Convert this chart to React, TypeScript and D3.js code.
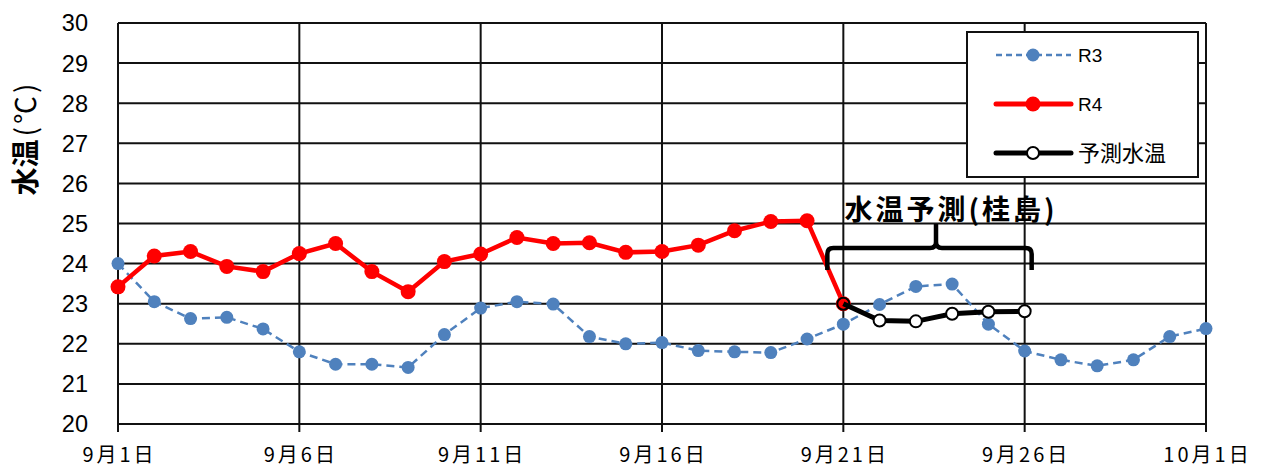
import React, { useEffect, useRef } from "react";
import * as d3 from "d3";

// day offsets from 9/1
const xTickDays = [0, 5, 10, 15, 20, 25, 30];
const xTickLabels = ["9月1日", "9月6日", "9月11日", "9月16日", "9月21日", "9月26日", "10月1日"];
const yTicks = [20, 21, 22, 23, 24, 25, 26, 27, 28, 29, 30];

// R3: 9/1 .. 10/1
const r3Values = [
  24.0, 23.05, 22.63, 22.66, 22.37, 21.8, 21.49, 21.49, 21.41, 22.23,
  22.89, 23.05, 22.99, 22.18, 22.0, 22.03, 21.83, 21.8, 21.78, 22.12,
  22.49, 22.98, 23.43, 23.49, 22.49, 21.82, 21.6, 21.45, 21.6, 22.18, 22.38,
];
// R4: 9/1 .. 9/21
const r4Values = [
  23.42, 24.19, 24.3, 23.93, 23.8, 24.25, 24.5, 23.8, 23.3, 24.05,
  24.24, 24.65, 24.5, 24.52, 24.28, 24.3, 24.46, 24.82, 25.05, 25.07, 23.0,
];
// 予測水温: 9/21 .. 9/26
const predStart = 20;
const predValues = [23.0, 22.58, 22.56, 22.75, 22.8, 22.81];

const W = 1263;
const H = 468;
const margin = { left: 118, right: 57, top: 23, bottom: 44 };

export default function App() {
  const svgRef = useRef<SVGSVGElement>(null);

  useEffect(() => {
    const svg = d3.select(svgRef.current);
    svg.selectAll("*").remove();

    const x = d3.scaleLinear().domain([0, 30]).range([margin.left, W - margin.right]);
    const y = d3.scaleLinear().domain([20, 30]).range([H - margin.bottom, margin.top]);

    const g = svg.append("g");

    // horizontal grid
    g.append("g")
      .selectAll("line")
      .data(yTicks)
      .join("line")
      .attr("x1", x(0))
      .attr("x2", x(30))
      .attr("y1", (d) => y(d))
      .attr("y2", (d) => y(d))
      .attr("stroke", "#111")
      .attr("stroke-width", 2);

    // vertical grid + ticks below axis
    g.append("g")
      .selectAll("line")
      .data(xTickDays)
      .join("line")
      .attr("x1", (d) => x(d))
      .attr("x2", (d) => x(d))
      .attr("y1", y(30))
      .attr("y2", y(20) + 8)
      .attr("stroke", "#111")
      .attr("stroke-width", 2);

    // y tick labels
    g.append("g")
      .selectAll("text")
      .data(yTicks)
      .join("text")
      .attr("x", x(0) - 30)
      .attr("y", (d) => y(d))
      .attr("dy", "0.36em")
      .attr("text-anchor", "end")
      .attr("font-family", "Liberation Sans, sans-serif")
      .attr("font-size", 23.5)
      .attr("fill", "#000")
      .text((d) => d);

    // x tick labels
    g.append("g")
      .selectAll("text")
      .data(xTickDays)
      .join("text")
      .attr("x", (d) => x(d) + 1.5)
      .attr("y", H - 6)
      .attr("text-anchor", "middle")
      .attr("font-family", "Noto Sans CJK JP, sans-serif")
      .attr("font-size", 20)
      .attr("letter-spacing", 3)
      .attr("fill", "#000")
      .text((d, i) => xTickLabels[i]);

    // y axis title
    const yt = g.append("text")
      .attr("transform", `translate(36, 138) rotate(-90)`)
      .attr("text-anchor", "middle")
      .attr("font-family", "Noto Sans CJK JP, sans-serif")
      .attr("font-size", 28)
      .attr("fill", "#000");
    yt.append("tspan").attr("font-weight", "bold").text("水温");
    yt.append("tspan").attr("dx", 3).attr("letter-spacing", 3).text("(℃)");

    const line = d3.line<[number, number]>()
      .x((d) => x(d[0]))
      .y((d) => y(d[1]));

    // R3
    const r3 = r3Values.map((v, i) => [i, v] as [number, number]);
    g.append("path")
      .attr("d", line(r3))
      .attr("fill", "none")
      .attr("stroke", "#4f81bd")
      .attr("stroke-width", 2.5)
      .attr("stroke-dasharray", "8,5");
    g.append("g")
      .selectAll("circle")
      .data(r3)
      .join("circle")
      .attr("cx", (d) => x(d[0]))
      .attr("cy", (d) => y(d[1]))
      .attr("r", 6.5)
      .attr("fill", "#4f81bd");

    // R4
    const r4 = r4Values.map((v, i) => [i, v] as [number, number]);
    g.append("path")
      .attr("d", line(r4))
      .attr("fill", "none")
      .attr("stroke", "#ff0000")
      .attr("stroke-width", 4.5);
    g.append("g")
      .selectAll("circle")
      .data(r4)
      .join("circle")
      .attr("cx", (d) => x(d[0]))
      .attr("cy", (d) => y(d[1]))
      .attr("r", 7.5)
      .attr("fill", "#ff0000");

    // prediction
    const pred = predValues.map((v, i) => [predStart + i, v] as [number, number]);
    g.append("path")
      .attr("d", line(pred))
      .attr("fill", "none")
      .attr("stroke", "#000")
      .attr("stroke-width", 5);
    g.append("g")
      .selectAll("circle")
      .data(pred)
      .join("circle")
      .attr("cx", (d) => x(d[0]))
      .attr("cy", (d) => y(d[1]))
      .attr("r", 6)
      .attr("fill", (d, i) => (i === 0 ? "none" : "#fff"))
      .attr("stroke", "#000")
      .attr("stroke-width", 2);

    // bracket annotation over prediction range
    const bx0 = x(predStart) - 16;
    const bx1 = x(predStart + predValues.length - 1) + 7;
    const bm = (x(predStart) + x(predStart + predValues.length - 1)) / 2 + 2;
    const by = 248;
    const r = 6;
    const bracket = d3.path();
    bracket.moveTo(bx0, by + 22);
    bracket.lineTo(bx0, by + r);
    bracket.quadraticCurveTo(bx0, by, bx0 + r, by);
    bracket.lineTo(bm - r, by);
    bracket.quadraticCurveTo(bm, by, bm, by - r);
    bracket.lineTo(bm, by - 24);
    bracket.moveTo(bm, by - r);
    bracket.quadraticCurveTo(bm, by, bm + r, by);
    bracket.lineTo(bx1 - r, by);
    bracket.quadraticCurveTo(bx1, by, bx1, by + r);
    bracket.lineTo(bx1, by + 22);
    g.append("path")
      .attr("d", bracket.toString())
      .attr("fill", "none")
      .attr("stroke", "#000")
      .attr("stroke-width", 4.5);

    g.append("text")
      .attr("x", 951)
      .attr("y", 220)
      .attr("text-anchor", "middle")
      .attr("font-family", "Noto Sans CJK JP, sans-serif")
      .attr("font-weight", "bold")
      .attr("font-size", 28)
      .attr("letter-spacing", 3)
      .attr("fill", "#000")
      .text("水温予測(桂島)");

    // legend
    const lg = g.append("g");
    lg.append("rect")
      .attr("x", 967)
      .attr("y", 32)
      .attr("width", 231)
      .attr("height", 145)
      .attr("fill", "#fff")
      .attr("stroke", "#111")
      .attr("stroke-width", 2);
    const items = [
      { name: "R3", color: "#4f81bd", width: 2.5, dash: "6,4", r: 6.5, fill: "#4f81bd", stroke: "none" },
      { name: "R4", color: "#ff0000", width: 5, dash: null, r: 7.5, fill: "#ff0000", stroke: "none" },
      { name: "予測水温", color: "#000", width: 5, dash: null, r: 6, fill: "#fff", stroke: "#000" },
    ];
    items.forEach((it, i) => {
      const ly = 55 + i * 49;
      lg.append("line")
        .attr("x1", 996)
        .attr("x2", 1071)
        .attr("y1", ly)
        .attr("y2", ly)
        .attr("stroke", it.color)
        .attr("stroke-width", it.width)
        .attr("stroke-linecap", it.dash ? "butt" : "round")
        .attr("stroke-dasharray", it.dash);
      lg.append("circle")
        .attr("cx", 1033)
        .attr("cy", ly)
        .attr("r", it.r)
        .attr("fill", it.fill)
        .attr("stroke", it.stroke)
        .attr("stroke-width", 2);
      lg.append("text")
        .attr("x", 1078)
        .attr("y", ly)
        .attr("dy", "0.36em")
        .attr("font-family", i === 2 ? "Noto Sans CJK JP, sans-serif" : "Liberation Sans, sans-serif")
        .attr("font-size", i === 2 ? 22 : 19)
        .attr("fill", "#000")
        .text(it.name);
    });
  }, []);

  return (
    <svg
      ref={svgRef}
      width={W}
      height={H}
      style={{ position: "absolute", left: 0, top: 0, background: "#fff" }}
    />
  );
}
